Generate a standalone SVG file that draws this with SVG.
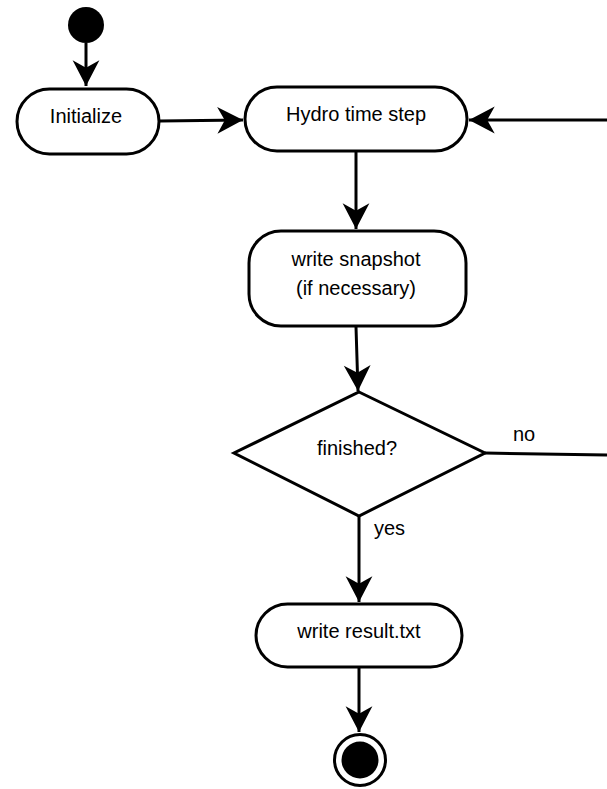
<svg xmlns="http://www.w3.org/2000/svg" width="607" height="789" viewBox="0 0 607 789">
  <style>
    .node { fill: #ffffff; stroke: #000000; stroke-width: 3; }
    .edge { fill: none; stroke: #000000; stroke-width: 3; marker-end: url(#arrow); }
    .plain { fill: none; stroke: #000000; stroke-width: 3; }
    .label { font-family: "Liberation Sans", Arial, sans-serif; font-size: 20px; fill: #000000; text-anchor: middle; }
    .tag { font-family: "Liberation Sans", Arial, sans-serif; font-size: 20px; fill: #000000; }
  </style>
  <defs>
    <marker id="arrow" markerUnits="userSpaceOnUse" markerWidth="30" markerHeight="30" viewBox="-26 -14 28 28" refX="0" refY="0" orient="auto">
      <path d="M0,0 L-24,-12.5 L-17,0 L-24,12.5 Z" fill="#000000"/>
    </marker>
  </defs>

  <!-- connectors -->
  <g id="connectors">
    <path class="edge" d="M86,43 L86,86"/>
    <path class="edge" d="M160,121 L243,120"/>
    <path class="edge" d="M607,120 L469,120"/>
    <path class="edge" d="M356,152 L356,229"/>
    <path class="edge" d="M356,327 L358,391"/>
    <path class="plain" d="M485,453 L607,455"/>
    <path class="edge" d="M359,516 L359,602"/>
    <path class="edge" d="M359,668 L359,732"/>
    <text class="tag" x="513" y="441">no</text>
    <text class="tag" x="374" y="535">yes</text>
  </g>

  <!-- start -->
  <g id="start">
    <circle cx="86" cy="25" r="18" fill="#000000"/>
  </g>

  <g id="initialize">
    <rect class="node" x="17" y="89" width="142" height="65" rx="32.5" ry="32.5"/>
    <text class="label" x="86" y="122.5">Initialize</text>
  </g>

  <g id="hydro">
    <rect class="node" x="245" y="87" width="222" height="64" rx="32" ry="32"/>
    <text class="label" x="356" y="121">Hydro time step</text>
  </g>

  <g id="snapshot">
    <rect class="node" x="249" y="231" width="217" height="95" rx="32" ry="32"/>
    <text class="label" x="356" y="266">write snapshot</text>
    <text class="label" x="356" y="295">(if necessary)</text>
  </g>

  <g id="finished">
    <polygon class="node" points="359,392 485,453 359,516 234,453"/>
    <text class="label" x="357" y="455">finished?</text>
  </g>

  <g id="result">
    <rect class="node" x="256" y="604" width="206" height="63" rx="31.5" ry="31.5"/>
    <text class="label" x="359" y="638">write result.txt</text>
  </g>

  <!-- end -->
  <g id="end">
    <circle cx="360" cy="760" r="25.5" fill="#ffffff" stroke="#000000" stroke-width="3"/>
    <circle cx="360" cy="760" r="18.5" fill="#000000"/>
  </g>
</svg>
